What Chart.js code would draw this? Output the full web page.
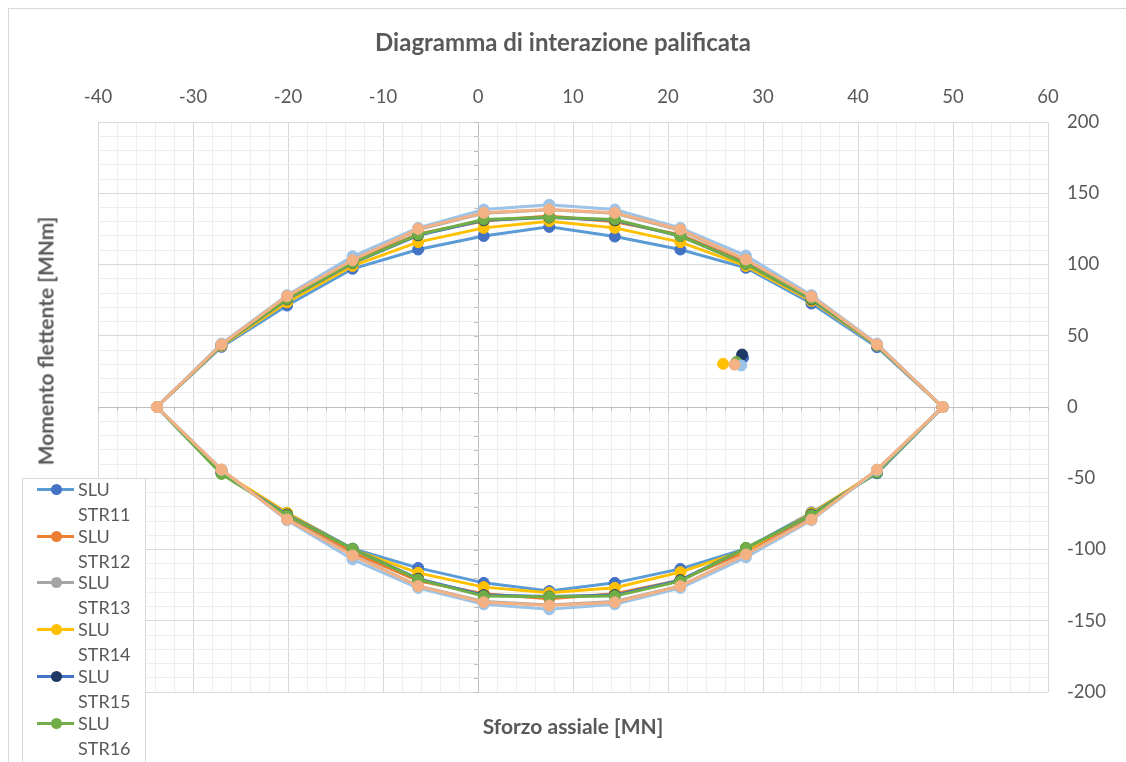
<!DOCTYPE html>
<html>
<head>
<meta charset="utf-8">
<title>Diagramma di interazione palificata</title>
<script src="https://cdn.jsdelivr.net/npm/chart.js@4.4.1/dist/chart.umd.min.js"></script>
<style>
  html, body { margin: 0; padding: 0; background: #ffffff; }
  #wrap { position: relative; width: 1126px; height: 762px; overflow: hidden; font-family: Lato, "Open Sans", sans-serif; }
  #frame { position: absolute; left: 8px; top: 8px; width: 1140px; height: 780px; border: 1px solid #d9d9d9; box-sizing: border-box; }
  #chart { position: absolute; left: 0; top: 0; }
  #ytitle { position: absolute; left: 45px; top: 341px; transform: translate(-50%, -50%) rotate(-90deg);
            white-space: nowrap; font-weight: bold; font-size: 21px; color: #595959; }
  #legend { position: absolute; left: 22px; top: 478px; width: 124px; height: 300px; background: #ffffff;
            border: 1px solid #d9d9d9; box-sizing: border-box; }
  .item { position: absolute; left: 0; width: 124px; height: 46px; }
  .swl { position: absolute; left: 14px; top: 9px; width: 37px; height: 3px; }
  .swm { position: absolute; left: 28px; top: 5px; width: 11px; height: 11px; border-radius: 50%; }
  .txt { position: absolute; left: 55px; top: 0; font-size: 18px; line-height: 25px; color: #595959; margin-top: -2px; }
</style>
</head>
<body>
<div id="wrap">
  <div id="frame"></div>
  <canvas id="chart" width="1126" height="762"></canvas>
  <div id="ytitle">Momento flettente [MNm]</div>
  <div id="legend"></div>
</div>
<script>
// Axial force stations [MN], shared by every interaction curve
const N_STATIONS = [-33.8, -27.0, -20.1, -13.2, -6.3, 0.6, 7.5, 14.4, 21.3, 28.2, 35.1, 42.0, 48.9];

// Resisting moment [MNm] on the positive (top) and negative (bottom) branch
const STR11_TOP = [0, 42.2, 71.2, 97.0, 110.5, 120.0, 126.4, 119.6, 110.5, 97.7, 72.6, 42.0, 0];
const STR11_BOT = [0, -46.0, -74.3, -99.5, -112.9, -123.4, -129.2, -123.4, -113.6, -99.5, -74.0, -46.5, 0];
const STR12_TOP = [0, 43.8, 76.5, 102.0, 121.5, 130.5, 134.0, 130.0, 121.0, 101.5, 76.5, 43.8, 0];
const STR12_BOT = [0, -44.5, -77.0, -102.0, -122.0, -131.0, -134.5, -131.0, -121.5, -101.5, -77.0, -44.5, 0];
const STR13_TOP = [0, 44.0, 78.0, 103.5, 124.5, 136.0, 138.5, 136.0, 124.0, 103.5, 77.8, 44.0, 0];
const STR13_BOT = [0, -44.0, -78.5, -104.0, -125.5, -136.5, -139.0, -136.5, -125.5, -103.5, -78.5, -44.0, 0];
const STR14_TOP = [0, 43.0, 73.5, 99.0, 115.7, 125.7, 130.4, 125.7, 115.7, 99.0, 74.5, 43.2, 0];
const STR14_BOT = [0, -45.5, -74.3, -100.0, -116.4, -126.4, -130.4, -126.9, -115.9, -100.5, -74.5, -45.5, 0];
const STR15_TOP = [0, 43.5, 75.5, 101.0, 120.5, 131.0, 133.0, 131.0, 120.0, 100.5, 75.5, 43.5, 0];
const STR15_BOT = [0, -46.5, -75.5, -99.5, -120.5, -132.0, -133.0, -132.0, -121.5, -99.0, -75.5, -46.0, 0];
const STR16_TOP = [0, 43.5, 75.8, 101.2, 121.0, 131.6, 133.2, 131.6, 120.0, 100.5, 76.0, 43.5, 0];
const STR16_BOT = [0, -47.0, -76.0, -99.5, -121.0, -132.7, -133.2, -132.7, -122.2, -98.8, -76.0, -46.0, 0];
const STR17_TOP = [0, 44.5, 78.5, 105.8, 125.7, 138.6, 142.0, 138.6, 125.7, 106.3, 78.5, 44.5, 0];
const STR17_BOT = [0, -44.0, -79.5, -107.0, -127.0, -138.5, -142.0, -138.5, -127.0, -105.5, -79.5, -44.5, 0];
const STR18_TOP = [0, 43.9, 77.8, 103.0, 125.0, 136.3, 138.6, 136.3, 124.6, 103.5, 77.5, 43.9, 0];
const STR18_BOT = [0, -43.9, -78.9, -104.2, -125.7, -137.0, -139.3, -137.0, -125.7, -103.5, -79.0, -44.0, 0];

// Acting load (N, M) of each combination
const LOAD_N = [27.9, 27.1, 27.3, 25.8, 27.8, 27.2, 27.7, 27.0];
const LOAD_M = [34.5, 30.0, 32.0, 30.3, 36.8, 31.5, 29.1, 29.8];

// Series names and colours (line, marker)
const SERIES_NAMES = ['SLU STR11', 'SLU STR12', 'SLU STR13', 'SLU STR14', 'SLU STR15', 'SLU STR16', 'SLU STR17', 'SLU STR18'];
const LINE_COLORS   = ['#5B9BD5', '#ED7D31', '#A5A5A5', '#FFC000', '#4472C4', '#70AD47', '#9DC3E6', '#F4B183'];
const MARKER_COLORS = ['#4472C4', '#ED7D31', '#A5A5A5', '#FFC000', '#1F3864', '#70AD47', '#9DC3E6', '#F4B183'];
const LEGEND_COUNT = 6;

// Axis ticks
const X_MIN = -40, X_MAX = 60, X_STEP = 2, X_LABEL_EVERY = 10;
const Y_MIN = -200, Y_MAX = 200, Y_STEP = 10, Y_LABEL_EVERY = 50;

const TOPS = [STR11_TOP, STR12_TOP, STR13_TOP, STR14_TOP, STR15_TOP, STR16_TOP, STR17_TOP, STR18_TOP];
const BOTS = [STR11_BOT, STR12_BOT, STR13_BOT, STR14_BOT, STR15_BOT, STR16_BOT, STR17_BOT, STR18_BOT];

// Closed domain: top branch left to right, bottom branch back, then a gap and the load point
function domainPoints(top, bot, n, m) {
  const pts = [];
  for (let i = 0; i < N_STATIONS.length; i++) pts.push({ x: N_STATIONS[i], y: top[i] });
  for (let i = N_STATIONS.length - 1; i >= 0; i--) pts.push({ x: N_STATIONS[i], y: bot[i] });
  pts.push({ x: n, y: null });
  pts.push({ x: n, y: m });
  return pts;
}

const datasets = SERIES_NAMES.map((name, i) => ({
  label: name,
  data: domainPoints(TOPS[i], BOTS[i], LOAD_N[i], LOAD_M[i]),
  showLine: true,
  spanGaps: false,
  borderColor: LINE_COLORS[i],
  backgroundColor: MARKER_COLORS[i],
  pointBackgroundColor: MARKER_COLORS[i],
  pointBorderColor: MARKER_COLORS[i],
  borderWidth: 3,
  pointRadius: 5.5,
  pointBorderWidth: 1,
  tension: 0,
  order: SERIES_NAMES.length - i
}));

const TEXT = '#595959';
const FONT = 'Lato, "Open Sans", sans-serif';

function gridColor(step) {
  return ctx => {
    const v = Math.round(ctx.tick.value);
    if (v === 0) return '#bfbfbf';
    return v % step === 0 ? '#d9d9d9' : '#eeeeee';
  };
}

// Short tick marks along the two zero axes
const zeroAxisTicks = {
  id: 'zeroAxisTicks',
  afterDatasetsDraw() {},
  beforeDatasetsDraw(chart) {
    const { ctx, scales: { x, y } } = chart;
    const x0 = x.getPixelForValue(0), y0 = y.getPixelForValue(0);
    ctx.save();
    ctx.strokeStyle = '#bfbfbf';
    ctx.lineWidth = 1;
    ctx.beginPath();
    for (let v = X_MIN; v <= X_MAX; v += X_STEP) {
      const px = Math.round(x.getPixelForValue(v)) + 0.5;
      ctx.moveTo(px, y0); ctx.lineTo(px, y0 + 4);
    }
    for (let v = Y_MIN; v <= Y_MAX; v += Y_STEP) {
      const py = Math.round(y.getPixelForValue(v)) + 0.5;
      ctx.moveTo(x0 - 4, py); ctx.lineTo(x0, py);
    }
    ctx.stroke();
    ctx.restore();
  }
};

new Chart(document.getElementById('chart'), {
  type: 'scatter',
  data: { datasets },
  plugins: [zeroAxisTicks],
  options: {
    responsive: false,
    animation: false,
    layout: { padding: 0 },
    plugins: {
      legend: { display: false },
      tooltip: { enabled: false },
      title: {
        display: true,
        text: 'Diagramma di interazione palificata',
        color: TEXT,
        font: { family: FONT, size: 24, weight: 'bold', lineHeight: 1.2 },
        padding: { top: 28.6, bottom: 0 }
      }
    },
    scales: {
      x: {
        type: 'linear', position: 'top', min: X_MIN, max: X_MAX,
        ticks: {
          stepSize: X_STEP, autoSkip: false, maxRotation: 0, padding: 14, color: TEXT,
          font: { family: FONT, size: 18.5 },
          callback: v => (Math.round(v) % X_LABEL_EVERY === 0 ? Math.round(v) : '')
        },
        grid: { color: gridColor(X_LABEL_EVERY), drawTicks: false, lineWidth: 1 },
        border: { display: false },
        afterFit: s => { s.height = 64.6; }
      },
      xb: {
        type: 'linear', position: 'bottom', min: X_MIN, max: X_MAX,
        ticks: { display: false },
        grid: { display: false, drawTicks: false },
        border: { display: false },
        title: {
          display: true, text: 'Sforzo assiale [MN]', color: TEXT,
          font: { family: FONT, size: 21, weight: 'bold', lineHeight: 1.2 },
          padding: { top: 0, bottom: 22.4 }
        },
        afterFit: s => { s.height = 70; }
      },
      y: {
        type: 'linear', position: 'right', min: Y_MIN, max: Y_MAX,
        ticks: {
          stepSize: Y_STEP, autoSkip: false, padding: 19, color: TEXT,
          font: { family: FONT, size: 18.5 },
          callback: v => (Math.round(v) % Y_LABEL_EVERY === 0 ? Math.round(v) : '')
        },
        grid: { color: gridColor(Y_LABEL_EVERY), drawTicks: false, lineWidth: 1 },
        border: { display: false },
        afterFit: s => { s.width = 78; }
      },
      yl: {
        type: 'linear', position: 'left', min: Y_MIN, max: Y_MAX,
        ticks: { display: false },
        grid: { display: false, drawTicks: false },
        border: { display: false },
        afterFit: s => { s.width = 98; }
      }
    }
  }
});

// Legend box: line + marker swatch, name wrapped on two lines
const legend = document.getElementById('legend');
for (let i = 0; i < LEGEND_COUNT; i++) {
  const item = document.createElement('div');
  item.className = 'item';
  item.style.top = (i * 46.7) + 'px';
  const line = document.createElement('div');
  line.className = 'swl';
  line.style.background = LINE_COLORS[i];
  const mark = document.createElement('div');
  mark.className = 'swm';
  mark.style.background = MARKER_COLORS[i];
  const txt = document.createElement('div');
  txt.className = 'txt';
  txt.innerHTML = SERIES_NAMES[i].replace(' ', '<br>');
  item.appendChild(line);
  item.appendChild(mark);
  item.appendChild(txt);
  legend.appendChild(item);
}
</script>
</body>
</html>
